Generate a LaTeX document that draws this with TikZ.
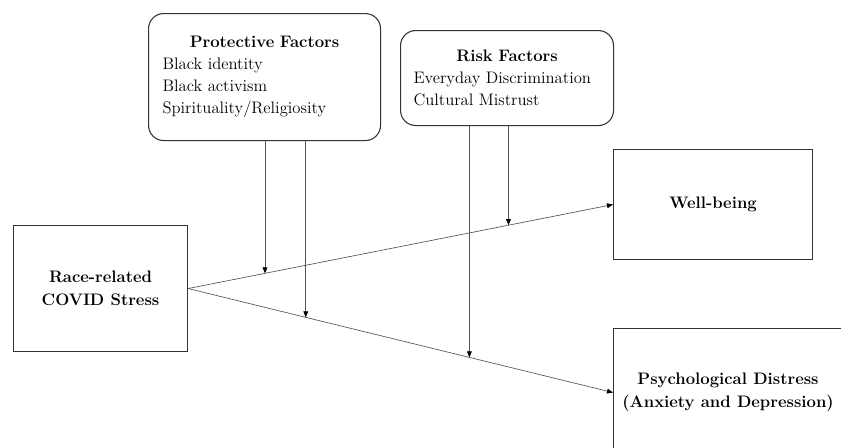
\documentclass[tikz,border=0pt]{standalone}
\usetikzlibrary{positioning,arrows.meta}
\definecolor{Edge}{HTML}{333333}
\definecolor{Wire}{HTML}{555555}

\begin{document}
\begin{tikzpicture}[x=0.75pt,y=-0.75pt,every node/.style={font=\fontsize{12.5}{16.5}\selectfont}]
\tikzstyle{card}=[draw=Edge,line width=0.8pt,rounded corners=4mm,anchor=north west,align=left,inner ysep=0pt]
\tikzstyle{frame}=[draw=Edge,line width=0.8pt,anchor=north west,align=center,inner sep=0pt,font=\fontsize{12.5}{17}\selectfont\bfseries]
\tikzstyle{link}=[Wire,line width=0.5pt,-{Triangle[length=4.5pt,width=3.6pt,color=black]}]
\useasboundingbox (0,0) rectangle (841,447);
% moderator boxes
\node[card,inner xsep=10.5pt,text width=153pt,minimum height=95.25pt] (prot) at (148,13)
  {\makebox[\linewidth]{\textbf{Protective Factors}}\\ Black identity\\ Black activism\\ Spirituality/Religiosity};
\node[card,inner xsep=9.75pt,text width=140.25pt,minimum height=71.25pt] (risk) at (400,30)
  {\makebox[\linewidth]{\textbf{Risk Factors}}\\ Everyday Discrimination\\ Cultural Mistrust};
% predictor and outcomes
\node[frame,minimum width=130.5pt,minimum height=94.5pt] (stress) at (13,225) {Race-related\\ COVID Stress};
\node[frame,minimum width=149.25pt,minimum height=82.5pt] (well) at (613,149) {Well-being};
\node[frame,minimum width=171.75pt,minimum height=96pt] (distress) at (613,328) {Psychological Distress\\ (Anxiety and Depression)};
% paths
\draw[link] (stress.east) -- coordinate[pos=.181] (p1) coordinate[pos=.754] (r2) (well.west);
\draw[link] (stress.east) -- coordinate[pos=.277] (p2) coordinate[pos=.662] (r1) (distress.west);
\draw[link] (prot.south -| p1) -- (p1);
\draw[link] (prot.south -| p2) -- (p2);
\draw[link] (risk.south -| r1) -- (r1);
\draw[link] (risk.south -| r2) -- (r2);
\end{tikzpicture}
\end{document}
